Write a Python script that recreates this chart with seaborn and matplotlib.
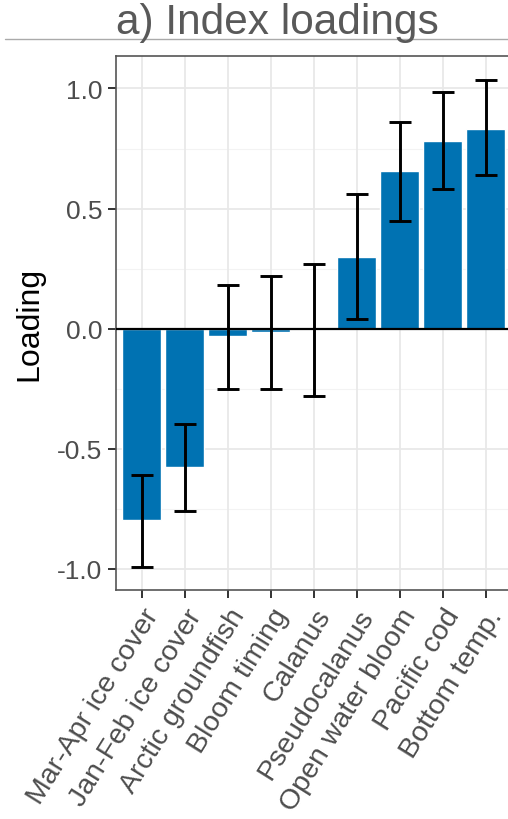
import matplotlib
matplotlib.use("Agg")
import matplotlib.pyplot as plt
import seaborn as sns
import numpy as np
from matplotlib.lines import Line2D

categories = ["Mar-Apr ice cover", "Jan-Feb ice cover", "Arctic groundfish",
              "Bloom timing", "Calanus", "Pseudocalanus", "Open water bloom",
              "Pacific cod", "Bottom temp."]
loadings = [-0.795, -0.575, -0.03, -0.015, 0.0, 0.30, 0.655, 0.78, 0.83]
lower = [-0.99, -0.76, -0.25, -0.25, -0.28, 0.04, 0.45, 0.58, 0.64]
upper = [-0.61, -0.395, 0.18, 0.22, 0.27, 0.56, 0.86, 0.985, 1.035]
yticks = [-1.0, -0.5, 0.0, 0.5, 1.0]
ytick_labels = ["-1.0", "-0.5", "0.0", "0.5", "1.0"]
minor_ticks = [-0.75, -0.25, 0.25, 0.75]

sns.set_style("white")
plt.rcParams['font.family'] = ['Liberation Sans', 'DejaVu Sans']

fig = plt.figure(figsize=(5.08, 8.2), dpi=100)
W, H = 508, 820
left_px, right_px, top_px, bot_px = 116, 511.6, 57, 591
ax = fig.add_axes([left_px / W, 1 - bot_px / H, (right_px - left_px) / W, (bot_px - top_px) / H])

x = np.arange(len(categories))

# grid
for v in minor_ticks:
    ax.axhline(v, color="#F3F3F3", lw=0.8, zorder=0)
for v in yticks:
    ax.axhline(v, color="#E8E8E8", lw=1.3, zorder=0)
for xi in x:
    ax.axvline(xi, color="#E8E8E8", lw=1.3, zorder=0)

sns.barplot(x=categories, y=loadings, color="#0072B2", saturation=1, width=0.9,
            ax=ax, zorder=2, order=categories)

ax.axhline(0, color="black", lw=1.6, zorder=3)

ax.vlines(x, lower, upper, color="black", lw=2.1, zorder=4)
ax.hlines(lower, x - 0.25, x + 0.25, color="black", lw=2.1, zorder=4)
ax.hlines(upper, x - 0.25, x + 0.25, color="black", lw=2.1, zorder=4)

ax.set_xlim(-0.6, 8.6)
ax.set_ylim(-1.0875, 1.135)
ax.set_yticks(yticks)
ax.set_yticklabels(ytick_labels)
ax.set_xticks(x)
ax.set_xticklabels(categories, rotation=58, ha="right", rotation_mode="anchor")
ax.tick_params(axis="both", labelcolor="#4D4D4D", color="#333333",
               length=6, width=1.4, direction="out", bottom=True, left=True, pad=4)
ax.tick_params(axis="x", labelsize=20.5)
ax.tick_params(axis="y", labelsize=19)
ax.set_xlabel("")
ax.set_ylabel("Loading", fontsize=23, color="black", labelpad=9)

for s in ax.spines.values():
    s.set_color("#555555")
    s.set_linewidth(1.2)
    s.set_visible(True)

fig.text(277 / W, 1 - 23 / H, "a) Index loadings", ha="center", va="center",
         fontsize=30.5, color="#595959")
fig.add_artist(Line2D([5 / W, 1.0], [1 - 40 / H, 1 - 40 / H], color="#AAAAAA", lw=1.0,
                      transform=fig.transFigure))

fig.savefig("out.png", dpi=100)
